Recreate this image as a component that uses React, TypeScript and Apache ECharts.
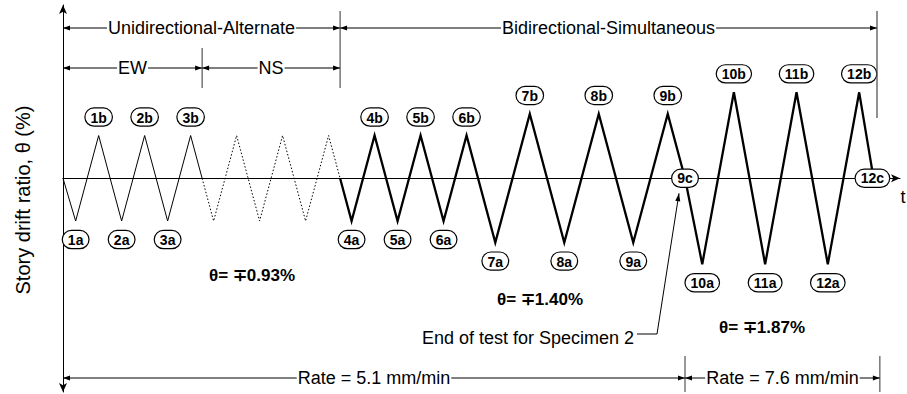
import React, { useEffect, useRef } from "react";
import * as echarts from "echarts";

// Time axis (arbitrary units, one quarter of a small cycle ~ 1 unit), drift ratio in %
// Unidirectional EW (thin solid)
const ewTimes = [0, 1.1, 3.1, 5.1, 7.1, 9.1, 11.1, 12.1];
const ewDrift = [0, -0.93, 0.93, -0.93, 0.93, -0.93, 0.93, 0];
// Unidirectional NS (dotted)
const nsTimes = [12.1, 13.1, 15.1, 17.1, 19.1, 21.1, 23.1, 24.1];
const nsDrift = [0, -0.93, 0.93, -0.93, 0.93, -0.93, 0.93, 0];
// Bidirectional-simultaneous (thick)
const biTimes = [24.1, 25.1, 27.1, 29.1, 31.1, 33.1, 35.1, 37.6, 40.6, 43.6, 46.6, 49.6, 52.6, 54.1, 55.6, 58.35, 61.07, 63.8, 66.52, 69.25, 70.5];
const biDrift = [0, -0.93, 0.93, -0.93, 0.93, -0.93, 0.93, -1.4, 1.4, -1.4, 1.4, -1.4, 1.4, 0, -1.87, 1.87, -1.87, 1.87, -1.87, 1.87, 0];

// Peak labels
const markerNames = ["1a", "1b", "2a", "2b", "3a", "3b", "4a", "4b", "5a", "5b", "6a", "6b", "7a", "7b", "8a", "8b", "9a", "9b", "9c", "10a", "10b", "11a", "11b", "12a", "12b", "12c"];
const markerTimes = [1.1, 3.1, 5.1, 7.1, 9.1, 11.1, 25.1, 27.1, 29.1, 31.1, 33.1, 35.1, 37.6, 40.6, 43.6, 46.6, 49.6, 52.6, 54.1, 55.6, 58.35, 61.07, 63.8, 66.52, 69.25, 70.4];
const markerDrift = [-0.93, 0.93, -0.93, 0.93, -0.93, 0.93, -0.93, 0.93, -0.93, 0.93, -0.93, 0.93, -1.4, 1.4, -1.4, 1.4, -1.4, 1.4, 0, -1.87, 1.87, -1.87, 1.87, -1.87, 1.87, 0];

// Phase annotations (time boundaries)
const directionNames = ["Unidirectional-Alternate", "Bidirectional-Simultaneous"];
const directionBounds = [0, 24.1, 70.8];
const componentNames = ["EW", "NS"];
const componentBounds = [0, 12.1, 24.1];
const rateNames = ["Rate = 5.1 mm/min", "Rate = 7.6 mm/min"];
const rateBounds = [0, 54.1, 71.05];
const amplitudeTexts = ["\u03b8= \u22130.93%", "\u03b8= \u22131.40%", "\u03b8= \u22131.87%"];
const endNote = "End of test for Specimen 2";

const FONT = '"Liberation Sans", Arial, Helvetica, sans-serif';

function arrowHead(x: number, y: number, dir: number, len = 7, half = 2.5) {
  const bx = x - len * Math.cos(dir);
  const by = y - len * Math.sin(dir);
  const nx = -Math.sin(dir) * half;
  const ny = Math.cos(dir) * half;
  return {
    type: "polygon",
    silent: true,
    z: 10,
    shape: { points: [[x, y], [bx + nx, by + ny], [bx - nx, by - ny]] },
    style: { fill: "#000" },
  };
}

function dimension(x1: number, x2: number, y: number, text: string) {
  return [
    { type: "line", silent: true, z: 9, shape: { x1, y1: y, x2, y2: y }, style: { stroke: "#000", lineWidth: 1 } },
    arrowHead(x1, y, Math.PI),
    arrowHead(x2, y, 0),
    {
      type: "text",
      silent: true,
      z: 11,
      x: (x1 + x2) / 2,
      y,
      style: {
        text,
        fill: "#000",
        font: `18px ${FONT}`,
        align: "center",
        verticalAlign: "middle",
        backgroundColor: "#fff",
        padding: [0, 1],
      },
    },
  ];
}

function vline(x: number, y1: number, y2: number, color = "#000", w = 1) {
  return { type: "line", silent: true, z: 9, shape: { x1: x, y1, x2: x, y2 }, style: { stroke: color, lineWidth: w } };
}

export default function App() {
  const ref = useRef<HTMLDivElement>(null);
  useEffect(() => {
    if (!ref.current) return;
    const chart = echarts.init(ref.current, null, { renderer: "svg" });
    const pair = (ts: number[], ds: number[]) => ts.map((t, i) => [t, ds[i]]);
    const labelBase = {
      show: true,
      formatter: "{b}",
      color: "#000",
      opacity: 1,
      fontWeight: "bold",
      fontSize: 14,
      fontFamily: FONT,
      backgroundColor: "#fff",
      borderColor: "#000",
      borderWidth: 1.2,
      borderRadius: 9,
      padding: [2, 5, 1, 5],
      textBorderWidth: 0,
      distance: 10,
    };
    chart.setOption({
      animation: false,
      grid: { left: 63, top: 5, width: 837, height: 387 },
      xAxis: {
        type: "value",
        min: 0,
        max: 72.8,
        axisLine: { onZero: true, lineStyle: { color: "#000", width: 1 }, symbol: ["none", "arrow"], symbolSize: [6, 9] },
        axisTick: { show: false },
        axisLabel: { show: false },
        splitLine: { show: false },
      },
      yAxis: {
        type: "value",
        min: -4.65,
        max: 3.77,
        axisLine: { show: true, lineStyle: { color: "#000", width: 1 }, symbol: ["arrow", "arrow"], symbolSize: [6, 9] },
        axisTick: { show: false },
        axisLabel: { show: false },
        splitLine: { show: false },
      },
      series: [
        {
          type: "line",
          data: pair(ewTimes, ewDrift),
          showSymbol: false,
          lineStyle: { color: "#000", width: 1 },
          z: 2,
        },
        {
          type: "line",
          data: pair(nsTimes, nsDrift),
          showSymbol: false,
          lineStyle: { color: "#000", width: 1, type: [1.5, 2] },
          z: 2,
        },
        {
          type: "line",
          data: pair(biTimes, biDrift),
          showSymbol: false,
          lineStyle: { color: "#000", width: 2.3, join: "miter" },
          z: 2,
        },
        {
          type: "scatter",
          symbolSize: 0,
          z: 5,
          itemStyle: { color: "#000", opacity: 1 },
          label: labelBase,
          emphasis: { disabled: true },
          data: markerNames.map((n, i) => ({
            name: n,
            value: [markerTimes[i], markerDrift[i]],
            label: { position: markerDrift[i] > 0 ? "top" : markerDrift[i] < 0 ? "bottom" : "inside" },
          })),
        },
      ],
    });

    const px = (t: number, v = 0) => chart.convertToPixel({ gridIndex: 0 }, [t, v]) as number[];
    const X = (t: number) => px(t)[0];
    const els: any[] = [];

    // Direction row
    els.push(...dimension(X(directionBounds[0]), X(directionBounds[1]), 28, directionNames[0]));
    els.push(...dimension(X(directionBounds[1]), X(directionBounds[2]), 28, directionNames[1]));
    // Component row
    els.push(...dimension(X(componentBounds[0]), X(componentBounds[1]), 68, componentNames[0]));
    els.push(...dimension(X(componentBounds[1]), X(componentBounds[2]), 68, componentNames[1]));
    els.push(vline(X(componentBounds[1]), 48, 88, "#333"));
    els.push(vline(X(directionBounds[1]), 11, 88, "#333"));
    els.push(vline(X(directionBounds[2]), 11, 118, "#555", 1.3));
    // Rate row
    els.push(...dimension(X(rateBounds[0]), X(rateBounds[1]), 378, rateNames[0]));
    els.push(...dimension(X(rateBounds[1]), X(rateBounds[2]), 378, rateNames[1]));
    els.push(vline(X(rateBounds[1]), 356, 392, "#333"));
    els.push(vline(X(rateBounds[2]), 356, 392, "#333"));

    // Amplitude notes
    const ampPos = [[252, 275], [540, 299], [762, 327]];
    amplitudeTexts.forEach((t, i) => {
      els.push({
        type: "text",
        silent: true,
        x: ampPos[i][0],
        y: ampPos[i][1],
        style: { text: t, fill: "#000", font: `bold 17px ${FONT}`, align: "center", verticalAlign: "middle" },
      });
    });

    // End of test leader
    const p9c = px(markerTimes[18], 0);
    const tip = [p9c[0] - 6, p9c[1] + 15];
    const corner = [tip[0] - 22, 334];
    const lead = [corner[0] - 20, 334];
    els.push({
      type: "polyline",
      silent: true,
      z: 9,
      shape: { points: [lead, corner, tip] },
      style: { stroke: "#000", lineWidth: 1, fill: null },
    });
    els.push(arrowHead(tip[0], tip[1], Math.atan2(tip[1] - corner[1], tip[0] - corner[0]), 8, 2.5));
    els.push({
      type: "text",
      silent: true,
      x: lead[0] - 3,
      y: 338,
      style: { text: endNote, fill: "#000", font: `18px ${FONT}`, align: "right", verticalAlign: "middle" },
    });

    // axis labels
    els.push({
      type: "text",
      silent: true,
      x: 23,
      y: 200,
      rotation: Math.PI / 2,
      style: { text: "Story drift ratio, \u03b8 (%)", fill: "#000", font: `20px ${FONT}`, align: "center", verticalAlign: "middle" },
    });
    els.push({
      type: "text",
      silent: true,
      x: 903,
      y: 197,
      style: { text: "t", fill: "#000", font: `18px ${FONT}`, align: "center", verticalAlign: "middle" },
    });

    chart.setOption({ graphic: { elements: els } });
    return () => chart.dispose();
  }, []);
  return <div ref={ref} style={{ position: "absolute", left: 0, top: 0, width: 907, height: 394 }} />;
}
